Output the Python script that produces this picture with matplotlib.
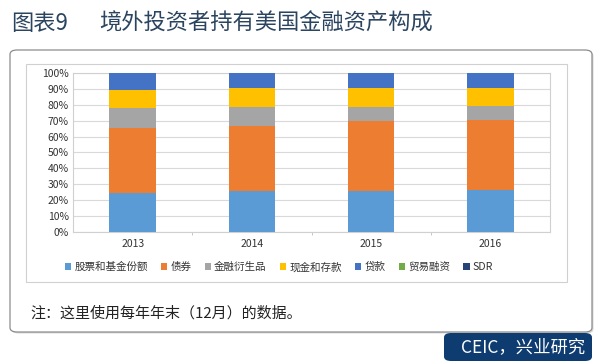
import numpy as np
import matplotlib.pyplot as plt
from matplotlib.patches import FancyBboxPatch, Rectangle

plt.rcParams['font.family'] = ['Noto Sans CJK SC', 'DejaVu Sans']

years = ["2013", "2014", "2015", "2016"]
series = ["股票和基金份额", "债券", "金融衍生品", "现金和存款", "贷款", "贸易融资", "SDR"]
stocks = [24.7, 26.0, 26.0, 26.4]
bonds = [40.5, 40.9, 43.8, 44.0]
derivs = [12.6, 11.9, 9.0, 9.0]
cash = [11.5, 11.6, 12.0, 11.4]
loans = [10.5, 9.4, 9.0, 9.0]
trade = [0.15, 0.15, 0.15, 0.15]
sdr = [0.05, 0.05, 0.05, 0.05]
colors = ["#5b9bd5", "#ed7d31", "#a5a5a5", "#ffc000", "#4472c4", "#70ad47", "#264478"]

W, H = 600, 364
fig = plt.figure(figsize=(6, 3.64), dpi=100)
fig.patch.set_facecolor("white")


def fx(px):
    return px / W


def fy(py):
    return 1 - py / H


# faint shadow + outer rounded box
fig.patches.append(FancyBboxPatch((fx(11.5), fy(333.5)), fx(582), (332 - 50) / H,
                                  boxstyle="round,pad=0,rounding_size=0.012",
                                  transform=fig.transFigure, facecolor="#d8d8d8",
                                  edgecolor="none", zorder=-4))
fig.patches.append(FancyBboxPatch((fx(10), fy(332)), fx(582), (332 - 50) / H,
                                  boxstyle="round,pad=0,rounding_size=0.012",
                                  transform=fig.transFigure, facecolor="white",
                                  edgecolor="#8c8c8c", linewidth=0.9, zorder=-3))
# source box
fig.patches.append(FancyBboxPatch((fx(444), fy(361)), fx(148), (361 - 333) / H,
                                  boxstyle="round,pad=0,rounding_size=0.012",
                                  transform=fig.transFigure, facecolor="#0e3c70",
                                  edgecolor="none", zorder=-3))
# inner chart frame
fig.patches.append(Rectangle((fx(26), fy(282)), fx(541), (282 - 64) / H,
                             transform=fig.transFigure, facecolor="none",
                             edgecolor="#d0d0d0", linewidth=0.8, zorder=-2))

fig.text(fx(11), fy(23), "图表9", fontsize=16, color="#2b4560", va="center")
fig.text(fx(99), fy(23), "境外投资者持有美国金融资产构成", fontsize=16, color="#2b4560", va="center")
fig.text(fx(30), fy(313), "注：这里使用每年年末（12月）的数据。", fontsize=10.8, color="#222222", va="center")
fig.text(fx(585), fy(347), "CEIC，兴业研究", fontsize=12.5, color="white", va="center", ha="right")

ax = fig.add_axes([fx(73), fy(232), fx(477), 159 / H])
ax.set_facecolor("white")
x = np.arange(len(years))
data = [stocks, bonds, derivs, cash, loans, trade, sdr]
bottom = np.zeros(len(years))
handles = []
for name, vals, c in zip(series, data, colors):
    b = ax.bar(x, vals, 0.39, bottom=bottom, color=c, label=name, zorder=3)
    bottom += np.array(vals)
    handles.append(b)

ax.set_xlim(-0.5, 3.5)
ax.set_ylim(0, 100)
ax.set_yticks(np.arange(0, 101, 10))
ax.set_yticklabels([f"{v}%" for v in range(0, 101, 10)])
ax.set_xticks(x)
ax.set_xticklabels(years)
ax.set_xticks([0.5, 1.5, 2.5], minor=True)
ax.tick_params(axis="x", which="major", length=0, labelsize=7.5, colors="#333333", pad=5)
ax.tick_params(axis="x", which="minor", length=2, color="#bfbfbf")
ax.tick_params(axis="y", length=0, labelsize=7.5, colors="#333333", pad=3)
ax.grid(axis="y", color="#d9d9d9", linewidth=0.8, zorder=0)
for s in ax.spines.values():
    s.set_color("#d0d0d0")
    s.set_linewidth(0.8)

leg = fig.legend(handles=handles, labels=series, loc="center", bbox_to_anchor=(fx(279), fy(267)),
                 ncol=7, frameon=False, fontsize=7.6, handlelength=0.6, handleheight=0.6,
                 handletextpad=0.3, columnspacing=1.25)
for t in leg.get_texts():
    t.set_color("#333333")

fig.savefig("out.png", dpi=100)
